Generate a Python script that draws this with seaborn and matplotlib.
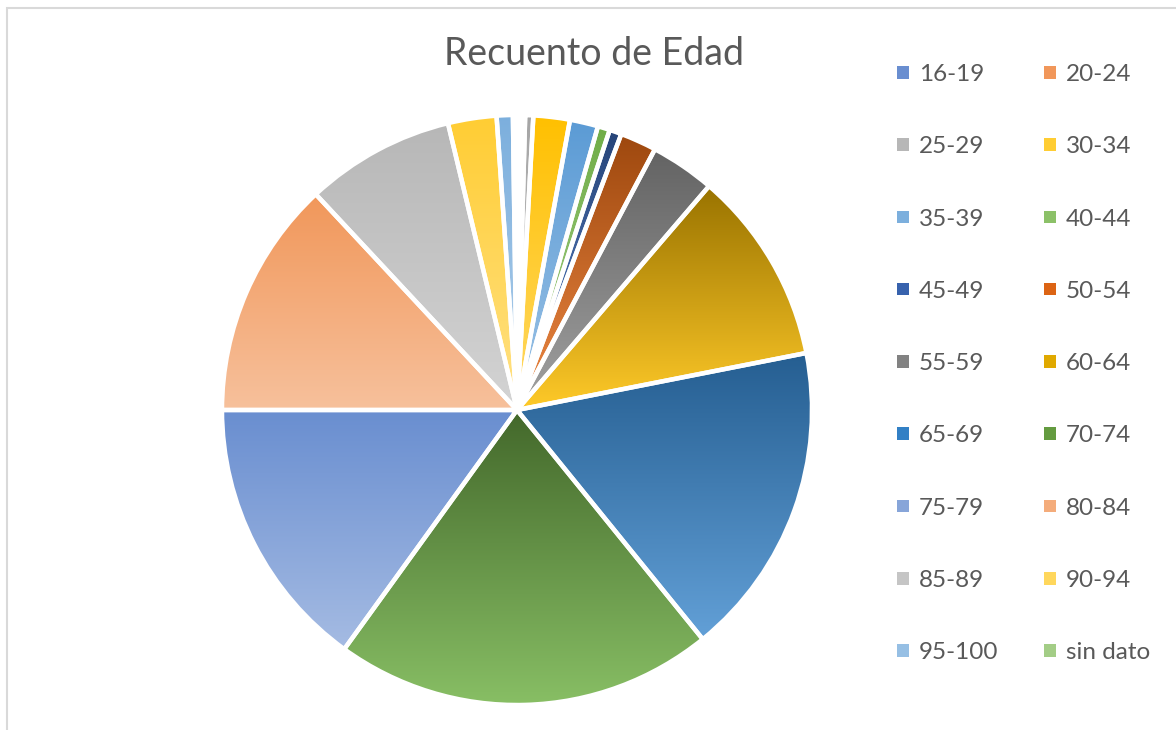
import colorsys
import numpy as np
import matplotlib
matplotlib.use("Agg")
import matplotlib.pyplot as plt
import matplotlib.colors as mcolors
from matplotlib.patches import Patch, Rectangle
import seaborn as sns

# datos
edades = ["16-19", "20-24", "25-29", "30-34", "35-39", "40-44", "45-49", "50-54",
          "55-59", "60-64", "65-69", "70-74", "75-79", "80-84", "85-89", "90-94",
          "95-100", "sin dato"]
conteo = [1, 1, 2, 9, 7, 3, 3, 9, 16, 48, 78, 94, 68, 59, 37, 12, 4, 1]
colores_base = ["#4472C4", "#ED7D31", "#A5A5A5", "#FFC000", "#5B9BD5", "#70AD47",
                "#264478", "#9E480E", "#636363", "#997300", "#255E91", "#43682B",
                "#698ED0", "#F1975A", "#B7B7B7", "#FFCD33", "#7CAFDD", "#8CC168"]
titulo = "Recuento de Edad"

sns.set_theme(style="white")
plt.rcParams['font.family'] = ['Lato', 'DejaVu Sans']
gris_texto = "#595959"
paleta = sns.color_palette(colores_base)

W, H = 1176, 730
fig = plt.figure(figsize=(W / 100, H / 100), dpi=100)
fig.patch.set_facecolor("white")

# marco del grafico
fig.patches.append(Rectangle((7 / W, -0.05), 1.1, (H - 8) / H + 0.05,
                             transform=fig.transFigure, fill=False,
                             edgecolor="#d9d9d9", lw=1.5))

cx, cy, r = 517, 410, 295
half = 300
ax = fig.add_axes([(cx - half) / W, (H - cy - half) / H, 2 * half / W, 2 * half / H])
wedges, _ = ax.pie(conteo, startangle=90, counterclock=False, colors=paleta,
                   wedgeprops=dict(edgecolor="white", linewidth=3.2))


def aclarar(c, f=0.4):
    h, l, s = colorsys.rgb_to_hls(*mcolors.to_rgb(c))
    return colorsys.hls_to_rgb(h, l + (1 - l) * f, s)


# degradado vertical en cada porcion
t = np.linspace(0, 1, 256)[:, None]
for w, c in zip(wedges, paleta):
    verts = w.get_patch_transform().transform(w.get_path().vertices)
    x0, y0 = verts.min(axis=0)
    x1, y1 = verts.max(axis=0)
    arriba = np.array(mcolors.to_rgb(c))
    abajo = np.array(aclarar(c))
    grad = (arriba * (1 - t) + abajo * t)[:, None, :]
    ax.imshow(grad, extent=[x0, x1, y0, y1], aspect="auto", zorder=1,
              clip_path=w, interpolation="bilinear")
    w.set_facecolor("none")
    w.set_zorder(2)

lim = half / r
ax.set_xlim(-lim, lim)
ax.set_ylim(-lim, lim)
ax.set_aspect("equal")
ax.axis("off")

fig.text(594 / W, 1 - 65 / H, titulo, ha="center", va="baseline",
         fontsize=27, color=gris_texto)

# leyenda en dos columnas, filas de izquierda a derecha
handles = [Patch(facecolor=aclarar(c, 0.2), edgecolor="none") for c in paleta]
for k, xpos in enumerate([897, 1044]):
    fig.legend(handles[k::2], edades[k::2], loc="upper left",
               bbox_to_anchor=(xpos / W, 1 - 64 / H), frameon=False,
               fontsize=17.5, handlelength=0.5, handleheight=0.42,
               handletextpad=0.4, labelspacing=2.11, labelcolor=gris_texto,
               borderaxespad=0, borderpad=0)

fig.savefig("out.png", dpi=100)
